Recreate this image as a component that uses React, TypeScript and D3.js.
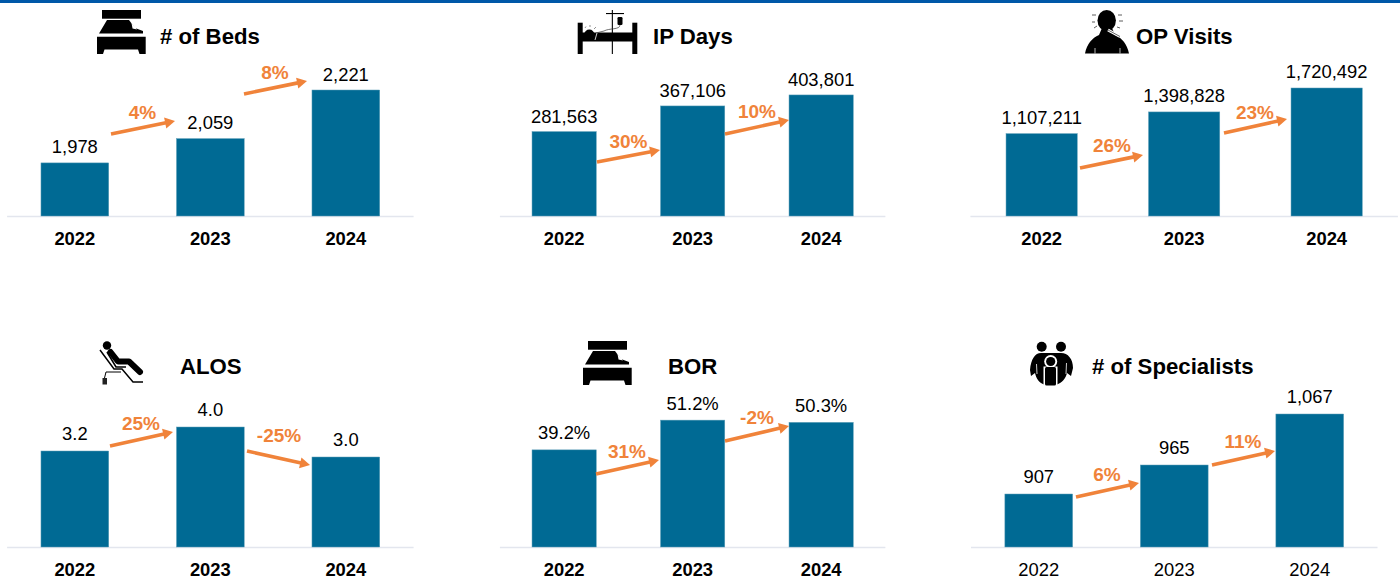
import React from "react";
import * as d3 from "d3";

const years = ["2022", "2023", "2024"];
const titles = ["# of Beds", "IP Days", "OP Visits", "ALOS", "BOR", "# of Specialists"];
const bedsValues = [1978, 2059, 2221];
const ipDaysValues = [281563, 367106, 403801];
const opVisitsValues = [1107211, 1398828, 1720492];
const alosValues = [3.2, 4.0, 3.0];
const borValues = [39.2, 51.2, 50.3];
const specialistsValues = [907, 965, 1067];
const bedsChanges = ["4%", "8%"];
const ipDaysChanges = ["30%", "10%"];
const opVisitsChanges = ["26%", "23%"];
const alosChanges = ["25%", "-25%"];
const borChanges = ["31%", "-2%"];
const specialistsChanges = ["6%", "11%"];

const fmtInt = d3.format(",");
const fmt1 = d3.format(".1f");
const fmtPct = (v: number) => d3.format(".1f")(v) + "%";

const BAR = "#006a94";
const ORANGE = "#f0833a";
const FONT = "'Liberation Sans', Arial, sans-serif";

// Layout: x range, baseline, plot height, y domain, arrows [x1,y1,x2,y2,labelX,labelY], title x, title y
const PLOT_H = 140;
const panels = [
  { values: bedsValues, changes: bedsChanges, fmt: fmtInt, range: [7.1, 413.6], base: 216, domain: [1801, 1801 + 140 / 0.3], titleX: 160, titleY: 43.5, gap: 9.5, boldCats: true, icon: "bed", ix: 0, iy: 0,
    arrows: [[111, 134, 175, 121, 142.5, 119], [244, 94, 307, 81, 275, 78.5]] },
  { values: ipDaysValues, changes: ipDaysChanges, fmt: fmtInt, range: [499.9, 885.4], base: 216, domain: [0, 140 / 0.0002998], titleX: 653, titleY: 43.5, gap: 9, boldCats: true, icon: "ip", ix: 0, iy: 0,
    arrows: [[597, 162, 660, 150, 628.5, 147.5], [725, 134, 789, 120, 757, 118]] },
  { values: opVisitsValues, changes: opVisitsChanges, fmt: fmtInt, range: [970.4, 1397.9], base: 216, domain: [0, 140 / 0.0000744], titleX: 1136, titleY: 43.5, gap: 9.5, boldCats: true, icon: "op", ix: 0, iy: 0,
    arrows: [[1080, 168, 1143, 155, 1112, 151.5], [1224, 133, 1287, 119, 1255, 118.5]] },
  { values: alosValues, changes: alosChanges, fmt: fmt1, range: [7.1, 413.6], base: 547, domain: [0, 140 / 30], titleX: 180, titleY: 374, gap: 11, boldCats: true, icon: "alos", ix: 0, iy: 0,
    arrows: [[110, 446, 173, 432, 141, 430], [247, 451, 310, 465, 279, 442]] },
  { values: borValues, changes: borChanges, fmt: fmtPct, range: [499.9, 885.4], base: 547, domain: [0, 140 / 2.478], titleX: 668, titleY: 374, gap: 10.5, boldCats: true, icon: "bor", ix: 486, iy: 331,
    arrows: [[596, 474, 659, 460, 627, 458], [725, 441, 789, 426, 757, 424]] },
  { values: specialistsValues, changes: specialistsChanges, fmt: fmtInt, range: [971, 1377.5], base: 547, domain: [801, 801 + 140 / 0.5], titleX: 1092, titleY: 374, gap: 11, boldCats: false, icon: "spec", ix: 0, iy: 0,
    arrows: [[1076, 497, 1139, 483, 1107, 481], [1212, 465, 1275, 451, 1243, 448]] },
];

function BedIcon({ dx, dy }: { dx: number; dy: number }) {
  return (
    <g transform={`translate(${dx},${dy})`} fill="#000">
      <rect x={102} y={10} width={39} height={8.7} />
      <path d="M107,20 H129 L135,28 L143,31 V33.5 H99 Z" />
      <path d="M131.5,23 L137,29.5 L132.5,28.5 Z" fill="#fff" />
      <path d="M97,36.8 H145.7 V54 H139.5 L138,49.5 H104.5 L103,54 H97 Z" />
    </g>
  );
}

function IpIcon() {
  return (
    <g fill="#000">
      <rect x={577.7} y={22.7} width={5} height={31.3} />
      <rect x={632.3} y={22.7} width={5} height={31.3} />
      <rect x={582} y={32.5} width={51} height={9} />
      <circle cx={589.3} cy={34.5} r={5} />
      <rect x={611.8} y={10} width={1.1} height={44} />
      <rect x={606} y={13} width={18} height={1.1} />
      <rect x={617.5} y={17} width={5} height={8} rx={1.2} />
      <path d="M620,25 C620,30 609,28 604,31 L596,33" fill="none" stroke="#333" strokeWidth={0.7} />
      <path d="M585,28 L586,26.5 M590,27 V25 M594,29 L596,27" stroke="#666" strokeWidth={0.7} />
      <path d="M595,40 L597,33" stroke="#ccc" strokeWidth={1} />
    </g>
  );
}

function OpIcon() {
  return (
    <g fill="#000">
      <ellipse cx={1106.7} cy={20.5} rx={9.2} ry={10.5} />
      <path d="M1085,53.5 C1087,44 1092,38 1099,35 L1102,28 H1112 L1115,35 C1122,38 1127,44 1129,53.5 Z" />
      <path d="M1095,48 V53.5 M1120,48 V53.5" stroke="#fff" strokeWidth={0.7} />
      <path d="M1108,30 L1120,36.5" stroke="#fff" strokeWidth={3} />
      <path d="M1108,30 L1120,36.5" stroke="#666" strokeWidth={1} />
      <path d="M1092,15 H1096 M1092,22 H1095 M1094,28 L1097,26 M1118,15 H1122 M1119,21 H1123 M1117,27 L1120,28" stroke="#333" strokeWidth={0.8} fill="none" />
    </g>
  );
}

function AlosIcon() {
  return (
    <g>
      <circle cx={107} cy={345.5} r={4.2} fill="#000" />
      <path d="M110.5,352 L118,361.5 H129 L140,372" stroke="#000" strokeWidth={6} strokeLinecap="round" strokeLinejoin="round" fill="none" />
      <path d="M107,352 L116,367 H126" stroke="#000" strokeWidth={1.6} fill="none" />
      <path d="M100,350 L114,369 H122 L133,382 H143" stroke="#000" strokeWidth={1.5} fill="none" />
      <path d="M121,372 H106 L104.5,378" stroke="#000" strokeWidth={1} fill="none" />
      <rect x={102.5} y={378} width={4.5} height={6.5} fill="#222" />
    </g>
  );
}

function SpecIcon() {
  return (
    <g fill="#000">
      <circle cx={1041.7} cy={346.7} r={5} />
      <circle cx={1061} cy={346.7} r={5} />
      <path d="M1030,370 C1031,359 1035,353 1041,353 H1061 C1068,353 1073,359 1073,368 L1071,376 L1067,373 C1066,378 1062,383 1056,385 H1045 C1039,383 1036,378 1035,373 L1031,376 Z" />
      <path d="M1036.5,364 L1037,374 M1066.5,363 L1066,374" stroke="#fff" strokeWidth={0.8} />
      <circle cx={1050.7} cy={361.5} r={6.5} fill="#fff" />
      <circle cx={1050.7} cy={361.5} r={4.6} />
      <rect x={1043.5} y={366.5} width={14} height={19} fill="#fff" />
      <rect x={1045} y={367} width={11} height={18.5} rx={1.5} />
    </g>
  );
}

function Icon({ kind, dx, dy }: { kind: string; dx: number; dy: number }) {
  if (kind === "bed" || kind === "bor") return <BedIcon dx={dx} dy={dy} />;
  if (kind === "ip") return <IpIcon />;
  if (kind === "op") return <OpIcon />;
  if (kind === "alos") return <AlosIcon />;
  return <SpecIcon />;
}

function Panel({ p, title }: { p: (typeof panels)[number]; title: string }) {
  const x = d3.scaleBand<string>().domain(years).range(p.range as [number, number]).paddingInner(0.5).paddingOuter(0.25);
  const y = d3.scaleLinear().domain(p.domain).range([p.base, p.base - PLOT_H]);
  return (
    <g fontFamily={FONT}>
      <Icon kind={p.icon} dx={p.ix} dy={p.iy} />
      <text x={p.titleX} y={p.titleY} fontSize={22.2} fontWeight="bold" fill="#000">{title}</text>
      <line x1={p.range[0]} x2={p.range[1]} y1={p.base + 0.5} y2={p.base + 0.5} stroke="#e3e6ee" strokeWidth={1.3} />
      {p.values.map((v, i) => (
        <g key={years[i]}>
          <rect x={x(years[i])} y={y(v)} width={x.bandwidth()} height={p.base - y(v)} fill={BAR} stroke="#5f9fb8" strokeWidth={0.5} />
          <text x={x(years[i])! + x.bandwidth() / 2} y={y(v) - p.gap} textAnchor="middle" fontSize={18.4} fill="#000">{p.fmt(v)}</text>
          <text x={x(years[i])! + x.bandwidth() / 2} y={p.base + 28.5} textAnchor="middle" fontSize={18.4} fontWeight={p.boldCats ? "bold" : "normal"} fill="#000">{years[i]}</text>
        </g>
      ))}
      {p.arrows.map((a, i) => {
        const [x1, y1, x2, y2, lx, ly] = a;
        const ang = Math.atan2(y2 - y1, x2 - x1);
        const len = Math.hypot(x2 - x1, y2 - y1);
        return (
          <g key={i}>
            <g transform={`translate(${x1},${y1}) rotate(${(ang * 180) / Math.PI})`} fill={ORANGE}>
              <rect x={0} y={-1.8} width={len - 8} height={3.6} />
              <path d={`M${len - 10},-5.5 L${len},0 L${len - 10},5.5 Z`} />
            </g>
            <text x={lx} y={ly} textAnchor="middle" fontSize={19} fontWeight="bold" fill={ORANGE}>{p.changes[i]}</text>
          </g>
        );
      })}
    </g>
  );
}

export default function App() {
  return (
    <svg width={1400} height={581} viewBox="0 0 1400 581" style={{ position: "absolute", left: 0, top: 0, display: "block", background: "#fff" }}>
      <rect x={0} y={0} width={1400} height={3} fill="#0058a8" />
      {panels.map((p, i) => <Panel key={titles[i]} p={p} title={titles[i]} />)}
    </svg>
  );
}
